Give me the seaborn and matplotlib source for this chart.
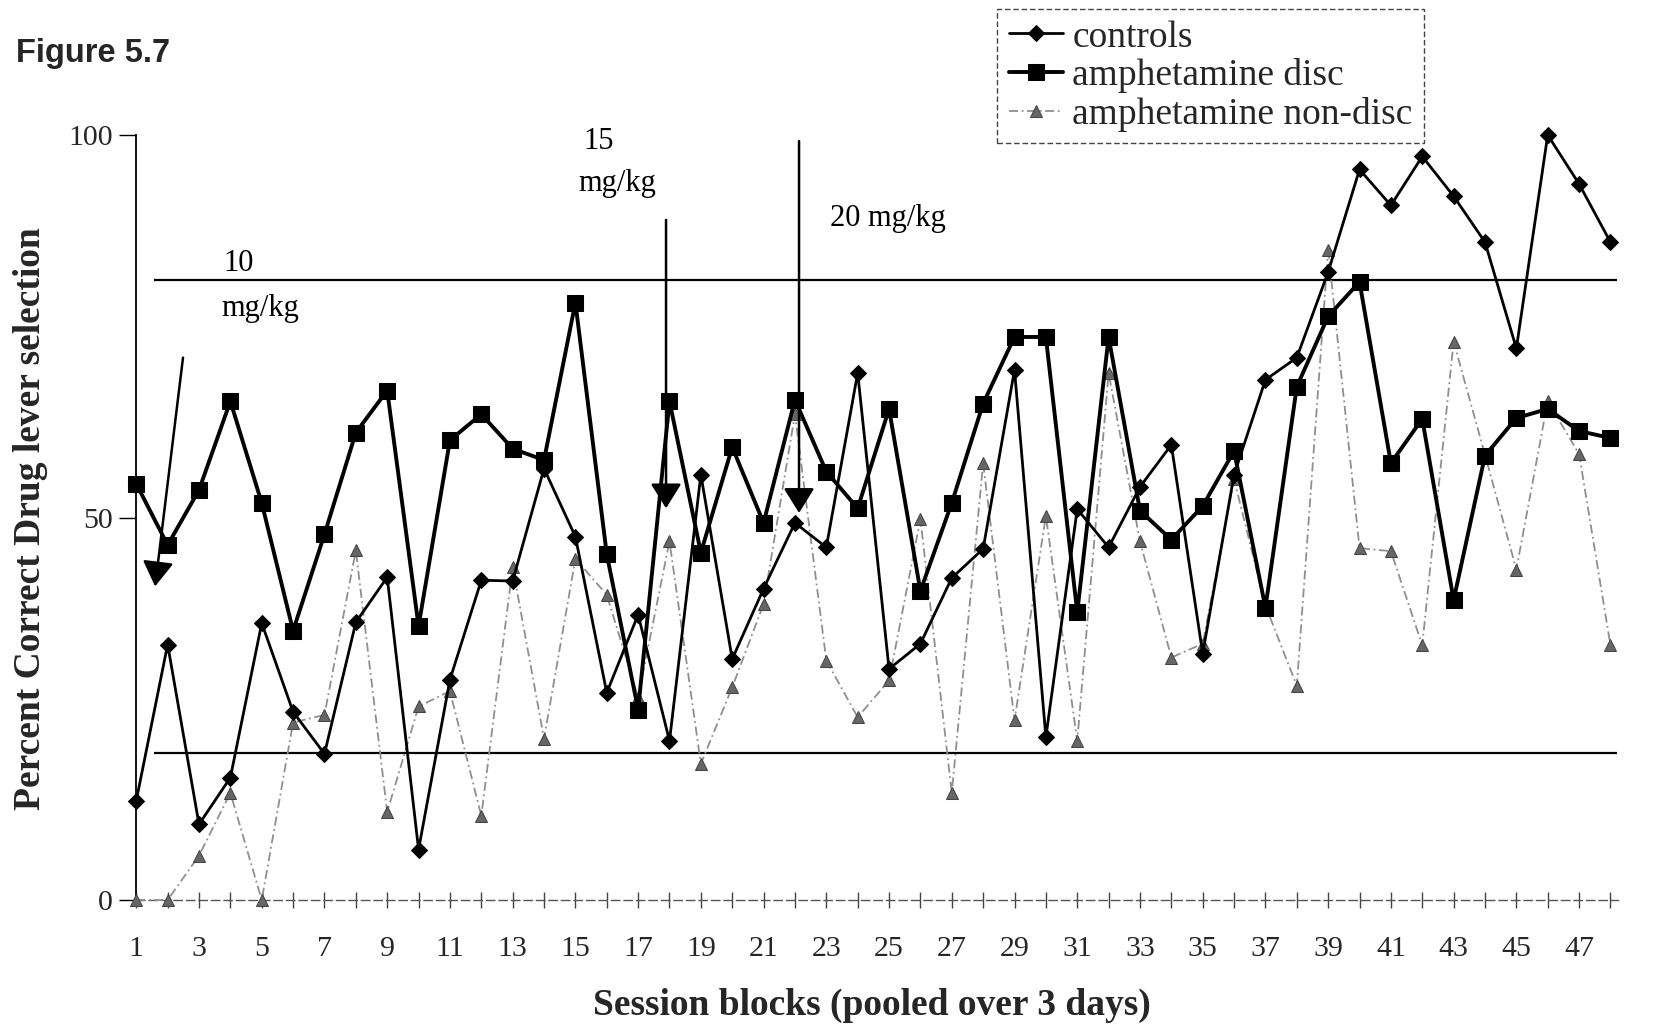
import matplotlib
matplotlib.use("Agg")
import matplotlib.pyplot as plt
import seaborn as sns

# Session blocks (each pooled over 3 days)
sessions = list(range(1, 49))

# Percent correct drug-lever selection per group
controls = [13.0, 33.4, 9.9, 16.0, 36.2, 24.6, 19.1, 36.3, 42.2, 6.6,
            28.8, 41.8, 41.7, 56.4, 47.5, 27.1, 37.3, 20.8, 55.6, 31.5,
            40.7, 49.3, 46.1, 68.9, 30.2, 33.5, 42.1, 45.9, 69.3, 21.3,
            51.1, 46.1, 54.0, 59.5, 32.2, 55.6, 68.0, 70.9, 82.1, 95.5,
            90.8, 97.2, 92.0, 86.0, 72.1, 100.0, 93.6, 86.0]
amph_disc = [54.4, 46.4, 53.6, 65.2, 51.9, 35.2, 47.8, 61.1, 66.6, 35.8,
             60.1, 63.5, 59.0, 57.5, 78.1, 45.2, 24.9, 65.2, 45.4, 59.2,
             49.3, 65.4, 56.0, 51.2, 64.2, 40.4, 51.9, 64.9, 73.6, 73.6,
             37.6, 73.6, 50.9, 47.1, 51.5, 58.7, 38.2, 67.1, 76.3, 80.8,
             57.1, 62.9, 39.2, 58.1, 63.0, 64.2, 61.3, 60.4]
amph_nondisc = [0.0, 0.0, 5.8, 14.0, 0.0, 23.2, 24.2, 45.7, 11.5, 25.3,
                27.3, 11.0, 43.5, 21.1, 44.6, 39.9, 26.5, 46.9, 17.8, 27.8,
                38.7, 63.5, 31.3, 23.9, 28.7, 49.8, 14.0, 57.1, 23.5, 50.2,
                20.8, 68.9, 46.9, 31.7, 33.5, 55.0, 38.5, 28.0, 85.0, 46.0,
                45.6, 33.3, 73.0, 58.2, 43.2, 65.2, 58.3, 33.3]

# Criterion levels drawn as horizontal reference lines
criterion_levels = [81.1, 19.2]

series_names = ["controls", "amphetamine disc", "amphetamine non-disc"]
x_tick_labels = [str(s) if s % 2 == 1 else "" for s in sessions]
y_ticks = [0, 50, 100]

sns.set_theme(style="white")
plt.rcParams["font.family"] = ["Liberation Serif", "DejaVu Serif"]
plt.rcParams["mathtext.default"] = "regular"

fig = plt.figure(figsize=(16.68, 10.26), dpi=100)
ax = fig.add_axes([0.0817, 0.1228, 0.8885, 0.7456])

sns.lineplot(x=sessions, y=controls, ax=ax, color="black", lw=2.0,
             marker="D", markersize=8.5, markeredgecolor="black",
             label=series_names[0], errorbar=None, clip_on=False, zorder=4)
sns.lineplot(x=sessions, y=amph_disc, ax=ax, color="black", lw=2.8,
             marker="s", markersize=11, markeredgecolor="black",
             label=series_names[1], errorbar=None, clip_on=False, zorder=5)
sns.lineplot(x=sessions, y=amph_nondisc, ax=ax, color="#8f8f8f", lw=1.3,
             linestyle=(0, (5, 2, 1, 2)), marker="^", markersize=8.5,
             markeredgecolor="#444444", markerfacecolor="#666666",
             label=series_names[2], errorbar=None, clip_on=False, zorder=3)

ax.hlines(criterion_levels, 1.57, 48.2, colors="black", lw=1.6, zorder=2)

# Dose-change arrows and labels
arrow_kw = dict(arrowstyle="-|>,head_length=0.45,head_width=0.28",
                color="black", lw=1.8, shrinkA=0, shrinkB=0,
                mutation_scale=34)
ax.annotate("", xy=(1.6, 41.0), xytext=(2.49, 70.9), arrowprops=arrow_kw,
            annotation_clip=False, zorder=6)
ax.annotate("", xy=(17.89, 51.2), xytext=(17.89, 88.9), arrowprops=arrow_kw,
            annotation_clip=False, zorder=6)
ax.annotate("", xy=(22.13, 50.6), xytext=(22.13, 99.2), arrowprops=arrow_kw,
            annotation_clip=False, zorder=6)

txt_kw = dict(fontsize=22, ha="left", va="center", color="black")
ax.text(3.78, 83.2, "10", **txt_kw)
ax.text(3.71, 77.3, "mg/kg", **txt_kw)
ax.text(15.24, 99.1, "15", **txt_kw)
ax.text(15.11, 93.6, "mg/kg", **txt_kw)
ax.text(23.12, 89.1, "20 mg/kg", **txt_kw)

ax.set_xlim(1, 48.25)
ax.set_ylim(0, 100)
ax.set_xticks(sessions)
ax.set_xticklabels(x_tick_labels, fontsize=21.5)
ax.set_yticks(y_ticks)
ax.set_yticklabels([str(v) for v in y_ticks], fontsize=21.5)

ax.tick_params(axis="x", direction="inout", length=12, width=1,
               color="#444444", pad=20, bottom=True)
ax.tick_params(axis="y", direction="out", length=12, width=1,
               color="black", pad=5, left=True)

for side in ("top", "right"):
    ax.spines[side].set_visible(False)
ax.spines["left"].set_color("black")
ax.spines["left"].set_linewidth(1.3)
ax.spines["bottom"].set_color("#555555")
ax.spines["bottom"].set_linewidth(1.0)
ax.spines["bottom"].set_linestyle((0, (6, 3)))
ax.grid(False)

ax.set_xlabel("Session blocks (pooled over 3 days)", fontsize=27,
              fontweight="bold")
ax.set_ylabel("Percent Correct Drug lever selection", fontsize=27,
              fontweight="bold")
ax.xaxis.set_label_coords(0.4966, -0.138)
ax.xaxis.label.set_va("center")
ax.yaxis.set_label_coords(-0.0717, 0.499)
ax.yaxis.label.set_va("center")

handles, labels = ax.get_legend_handles_labels()
leg = ax.legend(handles, labels, loc="upper left",
                bbox_to_anchor=(0.581, 1.165), frameon=True, fancybox=False,
                fontsize=27, labelspacing=0.1, handlelength=1.45,
                handletextpad=0.25, borderpad=0.3, borderaxespad=0,
                framealpha=1)
frame = leg.get_frame()
frame.set_edgecolor("#444444")
frame.set_linewidth(1.0)
frame.set_linestyle((0, (4, 2)))
leg.set_zorder(10)

fig.text(0.0096, 1 - 62 / 1026, "Figure 5.7", fontsize=23.5, fontweight="bold",
         family=["Liberation Sans", "DejaVu Sans"], ha="left", va="baseline")

fig.savefig("out.png", dpi=100, facecolor="white")
